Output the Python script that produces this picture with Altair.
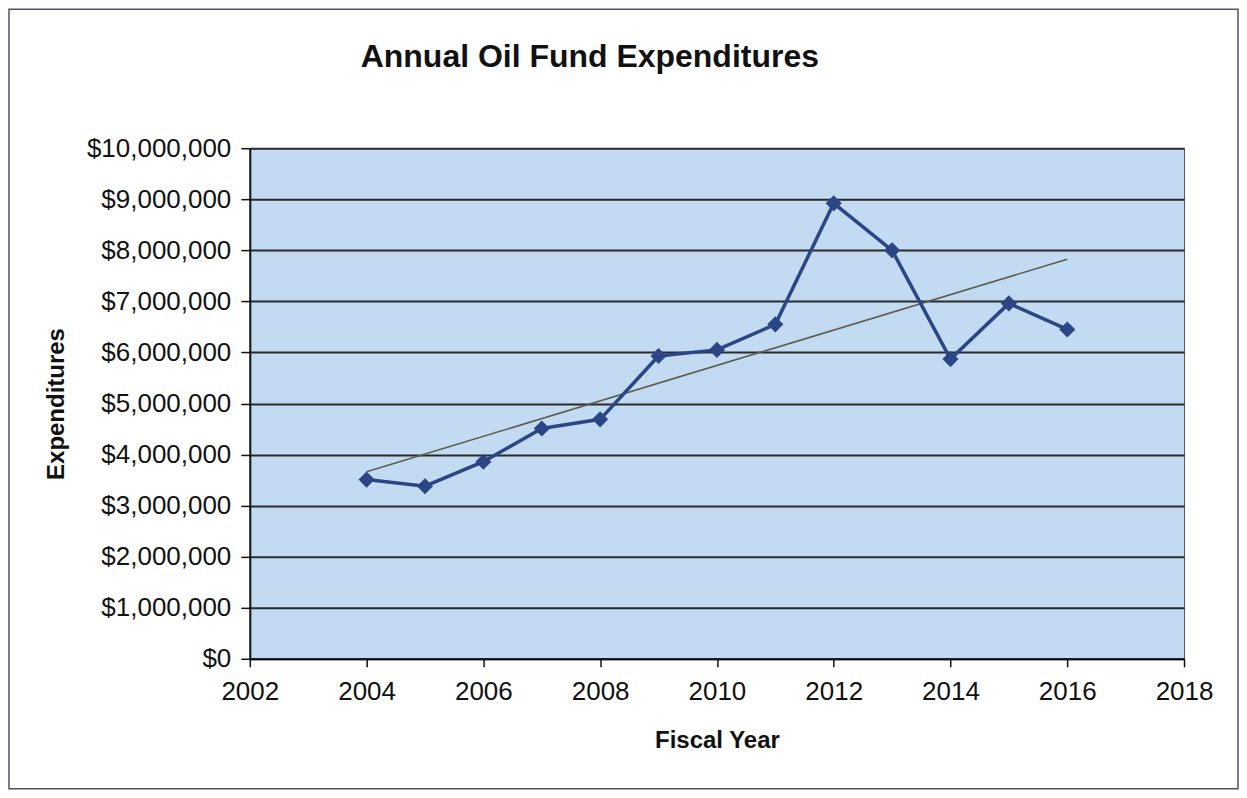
import altair as alt
import pandas as pd

years = [2004, 2005, 2006, 2007, 2008, 2009, 2010, 2011, 2012, 2013, 2014, 2015, 2016]
expenditures = [3510000, 3380000, 3860000, 4510000, 4690000, 5930000, 6050000,
                6550000, 8920000, 8000000, 5870000, 6960000, 6450000]
x_ticks = [2002, 2004, 2006, 2008, 2010, 2012, 2014, 2016, 2018]
y_ticks = [0, 1000000, 2000000, 3000000, 4000000, 5000000, 6000000, 7000000,
           8000000, 9000000, 10000000]
title_text = "Annual Oil Fund Expenditures"

df = pd.DataFrame({"year": years, "exp": expenditures})

W, H = 935, 511
PL, PT, PR, PB = 242, 140, 55, 131
FONT = "Liberation Sans"
LINE = "#2B4585"

x = alt.X("year:Q", title="Fiscal Year",
          scale=alt.Scale(domain=[2002, 2018], nice=False, zero=False),
          axis=alt.Axis(values=x_ticks, format="d", grid=False, tickSize=8,
                        labelPadding=12, titlePadding=24, labelFlush=False,
                        labelOverlap=False))
y = alt.Y("exp:Q", title="Expenditures",
          scale=alt.Scale(domain=[0, 10000000], nice=False),
          axis=alt.Axis(values=y_ticks, format="$,.0f", grid=True, tickSize=9,
                        labelPadding=10, titlePadding=18, labelFlush=False,
                        labelOverlap=False))

base = alt.Chart(df)

line = base.mark_line(color=LINE, strokeWidth=3.5).encode(x=x, y=y)
pts = base.mark_point(shape="diamond", filled=True, size=260, color=LINE,
                      opacity=1).encode(x=x, y=y)
trend = base.transform_regression("year", "exp").mark_line(
    color="#5C5C50", strokeWidth=1.6).encode(x=x, y=y)

one = pd.DataFrame({"t": [title_text]})
border = alt.Chart(one).mark_rect(
    fill=None, stroke="#50506E", strokeWidth=1.5).encode(
    x=alt.value(-PL + 1), x2=alt.value(W + PR - 1),
    y=alt.value(-PT + 1), y2=alt.value(H + PB - 1))
title = alt.Chart(one).mark_text(
    font=FONT, fontSize=32, fontWeight="bold", color="#111111",
    align="left", baseline="alphabetic").encode(
    text="t:N", x=alt.value(111), y=alt.value(-81))

chart = alt.layer(border, title, trend, line, pts).properties(
    width=W, height=H,
    autosize=alt.AutoSizeParams(type="none"),
    padding={"left": PL, "top": PT, "right": PR, "bottom": PB},
    background="white",
).configure_view(
    fill="#C3DBF2", stroke="#555555", strokeWidth=1
).configure_axis(
    labelFont=FONT, titleFont=FONT, labelFontSize=26, titleFontSize=24,
    labelColor="#111111", titleColor="#111111", titleFontWeight="bold",
    domainColor="#111111", domainWidth=2, tickColor="#111111", tickWidth=1.5,
    gridColor="#2A2A2A", gridWidth=2, gridOpacity=1
)

chart.save("out.html", embed_options={"renderer": "svg", "actions": False})
